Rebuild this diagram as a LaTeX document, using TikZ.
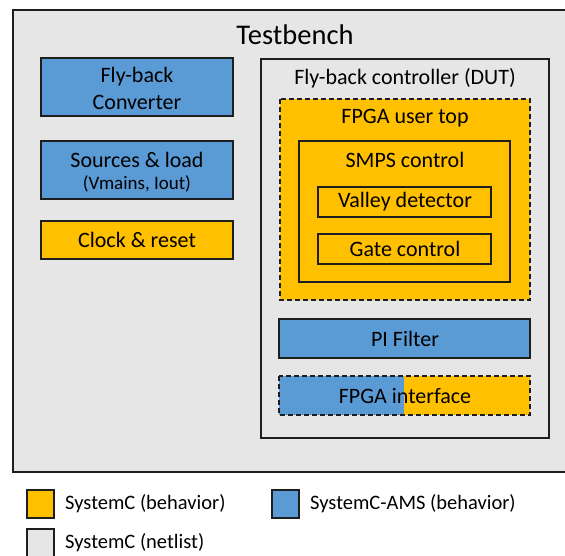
\documentclass[tikz,border=0pt]{standalone}
\usepackage{fontspec}
\setmainfont{Carlito}
\definecolor{yel}{HTML}{FFC000}
\definecolor{blu}{HTML}{5B9BD5}
\definecolor{gry}{HTML}{E6E6E6}
\definecolor{edge}{HTML}{1E1E1E}
\begin{document}
\begin{tikzpicture}[x=1pt,y=-1pt,
  blk/.style={draw=edge,line width=1.5pt},
  dsh/.style={draw=edge,line width=1.5pt,dash pattern=on 5pt off 3pt},
  lbl/.style={inner sep=0pt,font=\fontsize{22}{27}\selectfont,text=black},
  legtxt/.style={inner sep=0pt,anchor=west,font=\fontsize{20.5}{24}\selectfont}]
\useasboundingbox (0,0) rectangle (565,555);
\clip (0,0) rectangle (565,555);
% Testbench
\path[blk,fill=gry] (13,10) rectangle (568,472);
\node[lbl,font=\fontsize{28.5}{32}\selectfont] (tb) at (295,35) {Testbench};
% left blocks
\path[blk,fill=blu] (41,58) rectangle (233,116);
\node[lbl,align=center] (fbc) at (137,88) {Fly-back\\Converter};
\path[blk,fill=blu] (41,141) rectangle (233,199);
\node[lbl] (src) at (137,160) {Sources \& load};
\node[lbl,font=\fontsize{19}{22}\selectfont] (srcs) at (137,184) {(Vmains, Iout)};
\path[blk,fill=yel] (41,221) rectangle (233,259);
\node[lbl] (clk) at (137,240) {Clock \& reset};
% DUT
\path[blk,fill=gry] (261,59) rectangle (549,438);
\node[lbl] (dut) at (405,78) {Fly-back controller (DUT)};
\path[dsh,fill=yel] (280,99) rectangle (530,300);
\node[lbl] (fut) at (405,118) {FPGA user top};
\path[blk,fill=yel] (299,141) rectangle (510,282);
\node[lbl] (smps) at (405,160) {SMPS control};
\path[blk,fill=yel] (318,187) rectangle (491,217);
\node[lbl] (vd) at (405,202) {Valley detector};
\path[blk,fill=yel] (318,234) rectangle (491,264);
\node[lbl] (gc) at (405,249) {Gate control};
\path[blk,fill=blu] (279,319) rectangle (530,358);
\node[lbl] (pi) at (405,339) {PI Filter};
\fill[blu] (279,376) rectangle (404,415);
\fill[yel] (404,376) rectangle (530,415);
\path[dsh] (279,376) rectangle (530,415);
\node[lbl] (fi) at (405,396) {FPGA interface};
% legend
\path[blk,fill=yel] (27,490) rectangle (54,518);
\node[legtxt] (l1) at (65,504) {SystemC (behavior)};
\path[blk,fill=blu] (272,490) rectangle (299,518);
\node[legtxt] (l2) at (310,504) {SystemC-AMS (behavior)};
\path[blk,fill=gry] (27,529) rectangle (54,557);
\node[legtxt] (l3) at (65,543) {SystemC (netlist)};
\end{tikzpicture}
\end{document}
